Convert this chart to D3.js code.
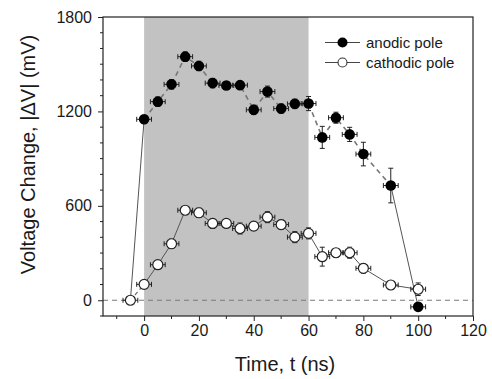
<!DOCTYPE html>
<html><head><meta charset="utf-8">
<script src="https://cdn.jsdelivr.net/npm/d3@7"></script>
<style>body{margin:0;background:#fff}svg{display:block}text{font-family:Arial,"Liberation Sans",sans-serif;fill:#1a1a1a}</style>
</head><body><svg id="c" width="492" height="379"></svg>
<script>
// Data
const anodicT   = [-5, 0, 5, 10, 15, 20, 25, 30, 35, 40, 45, 50, 55, 60, 65, 70, 75, 80, 90, 100];
const anodicV   = [0, 1150, 1262, 1372, 1548, 1489, 1380, 1365, 1367, 1210, 1326, 1218, 1248, 1250, 1035, 1160, 1054, 929, 729, -42];
const anodicErr = [25, 25, 30, 30, 30, 30, 30, 25, 25, 30, 35, 30, 30, 45, 70, 35, 45, 75, 110, 25];
const cathodicT   = [-5, 0, 5, 10, 15, 20, 25, 30, 35, 40, 45, 50, 55, 60, 65, 70, 75, 80, 90, 100];
const cathodicV   = [0, 101, 226, 359, 572, 556, 488, 488, 456, 471, 528, 481, 401, 425, 277, 302, 302, 203, 97, 70];
const cathodicErr = [20, 25, 25, 30, 25, 30, 30, 20, 35, 25, 35, 30, 35, 35, 60, 25, 35, 30, 20, 40];
const tErr = 2.7;
const xTicks = [0, 20, 40, 60, 80, 100, 120];
const yTicks = [0, 600, 1200, 1800];
const shadeRange = [0, 60];
const seriesNames = ["anodic pole", "cathodic pole"];

const svg = d3.select("#c");
const M = {l: 103, r: 473, t: 17, b: 316};
const x = d3.scaleLinear().domain([-15, 120]).range([M.l, M.r]);
const y = d3.scaleLinear().domain([-100, 1800]).range([M.b, M.t]);

// shaded pulse region
svg.append("rect").attr("x", x(shadeRange[0])).attr("y", M.t)
  .attr("width", x(shadeRange[1]) - x(shadeRange[0])).attr("height", M.b - M.t)
  .attr("fill", "#c2c2c2");

// zero line
svg.append("line").attr("x1", M.l).attr("x2", M.r).attr("y1", y(0)).attr("y2", y(0))
  .attr("stroke", "#7a7a7a").attr("stroke-width", 1.2).attr("stroke-dasharray", "5,4");

// axes
const xAxis = d3.axisBottom(x).tickValues(xTicks).tickFormat(d3.format("d")).tickSize(5).tickPadding(4);
const gx = svg.append("g").attr("transform", `translate(0,${M.b})`).call(xAxis);
const xMinor = d3.range(-10, 121, 10).filter(v => !xTicks.includes(v));
gx.selectAll(".minor").data(xMinor).enter().append("line").attr("class", "minor")
  .attr("x1", d => x(d)).attr("x2", d => x(d)).attr("y1", 0).attr("y2", 3).attr("stroke", "#222");
const yAxis = d3.axisLeft(y).tickValues(yTicks).tickFormat(d3.format("d")).tickSize(5).tickPadding(6);
const gy = svg.append("g").attr("transform", `translate(${M.l},0)`).call(yAxis);
const yMinor = d3.range(-100, 1801, 100).filter(v => !yTicks.includes(v));
gy.selectAll(".minor").data(yMinor).enter().append("line").attr("class", "minor")
  .attr("y1", d => y(d)).attr("y2", d => y(d)).attr("x1", 0).attr("x2", -3).attr("stroke", "#222");
[gx, gy].forEach(g => {
  g.select(".domain").remove();
  g.selectAll(".tick line").attr("stroke", "#222");
  g.selectAll("text").attr("font-size", 16).attr("fill", "#1a1a1a").attr("font-family", "Arial, Liberation Sans, sans-serif");
});
// frame
svg.append("rect").attr("x", M.l).attr("y", M.t).attr("width", M.r - M.l).attr("height", M.b - M.t)
  .attr("fill", "none").attr("stroke", "#222").attr("stroke-width", 1.2);

// titles
svg.append("text").attr("x", (M.l + M.r) / 2 - 3).attr("y", 371).attr("text-anchor", "middle")
  .attr("font-size", 20).text("Time, t (ns)");
svg.append("text").attr("transform", `translate(35,${(M.t + M.b) / 2 - 12}) rotate(-90)`)
  .attr("text-anchor", "middle").attr("font-size", 20).text("Voltage Change, |\u0394V| (mV)");

function pts(T, V, E) { return T.map((t, i) => ({t, v: V[i], e: E[i]})); }
const an = pts(anodicT, anodicV, anodicErr);
const ca = pts(cathodicT, cathodicV, cathodicErr);
const line = d3.line().x(d => x(d.t)).y(d => y(d.v));

// cathodic lines
svg.append("path").attr("d", line(ca.slice(0, 2))).attr("fill", "none").attr("stroke", "#777")
  .attr("stroke-width", 1.3).attr("stroke-dasharray", "4,3");
svg.append("path").attr("d", line(ca.slice(1))).attr("fill", "none").attr("stroke", "#555").attr("stroke-width", 1);
// anodic lines
svg.append("path").attr("d", line(an.slice(0, 2))).attr("fill", "none").attr("stroke", "#555").attr("stroke-width", 1);
svg.append("path").attr("d", line(an.slice(1, an.length - 1))).attr("fill", "none").attr("stroke", "#777")
  .attr("stroke-width", 1.6).attr("stroke-dasharray", "5,4");
svg.append("path").attr("d", line(an.slice(an.length - 2))).attr("fill", "none").attr("stroke", "#555").attr("stroke-width", 1);

function errorBars(data) {
  const g = svg.append("g").attr("stroke", "#222").attr("stroke-width", 1);
  data.forEach(d => {
    const cx = x(d.t), cy = y(d.v);
    const xl = x(d.t - tErr), xr = x(d.t + tErr), yt = y(d.v + d.e), yb = y(d.v - d.e);
    g.append("line").attr("x1", xl).attr("x2", xr).attr("y1", cy).attr("y2", cy);
    g.append("line").attr("x1", xl).attr("x2", xl).attr("y1", cy - 2.5).attr("y2", cy + 2.5);
    g.append("line").attr("x1", xr).attr("x2", xr).attr("y1", cy - 2.5).attr("y2", cy + 2.5);
    g.append("line").attr("x1", cx).attr("x2", cx).attr("y1", yt).attr("y2", yb);
    g.append("line").attr("x1", cx - 2.5).attr("x2", cx + 2.5).attr("y1", yt).attr("y2", yt);
    g.append("line").attr("x1", cx - 2.5).attr("x2", cx + 2.5).attr("y1", yb).attr("y2", yb);
  });
}
errorBars(ca.slice(1));
errorBars(an.slice(1));
errorBars([ca[0]]);

svg.append("g").selectAll("circle").data(ca.slice(1)).enter().append("circle")
  .attr("cx", d => x(d.t)).attr("cy", d => y(d.v)).attr("r", 5)
  .attr("fill", "#fff").attr("stroke", "#222").attr("stroke-width", 1.2);
svg.append("g").selectAll("circle").data(an.slice(1)).enter().append("circle")
  .attr("cx", d => x(d.t)).attr("cy", d => y(d.v)).attr("r", 5.3).attr("fill", "#000");
svg.append("circle").attr("cx", x(ca[0].t)).attr("cy", y(ca[0].v)).attr("r", 5)
  .attr("fill", "#fff").attr("stroke", "#222").attr("stroke-width", 1.2);

// legend
const lg = svg.append("g");
[[seriesNames[0], true, 42.5], [seriesNames[1], false, 62.5]].forEach(([name, filled, ly]) => {
  lg.append("line").attr("x1", 325).attr("x2", 360).attr("y1", ly).attr("y2", ly).attr("stroke", "#444").attr("stroke-width", 1);
  lg.append("circle").attr("cx", 342.5).attr("cy", ly).attr("r", filled ? 5 : 4.5)
    .attr("fill", filled ? "#000" : "#fff").attr("stroke", filled ? "none" : "#333").attr("stroke-width", 1.1);
  lg.append("text").attr("x", 366).attr("y", ly + 5.5).attr("font-size", 15).text(name);
});
</script></body></html>
